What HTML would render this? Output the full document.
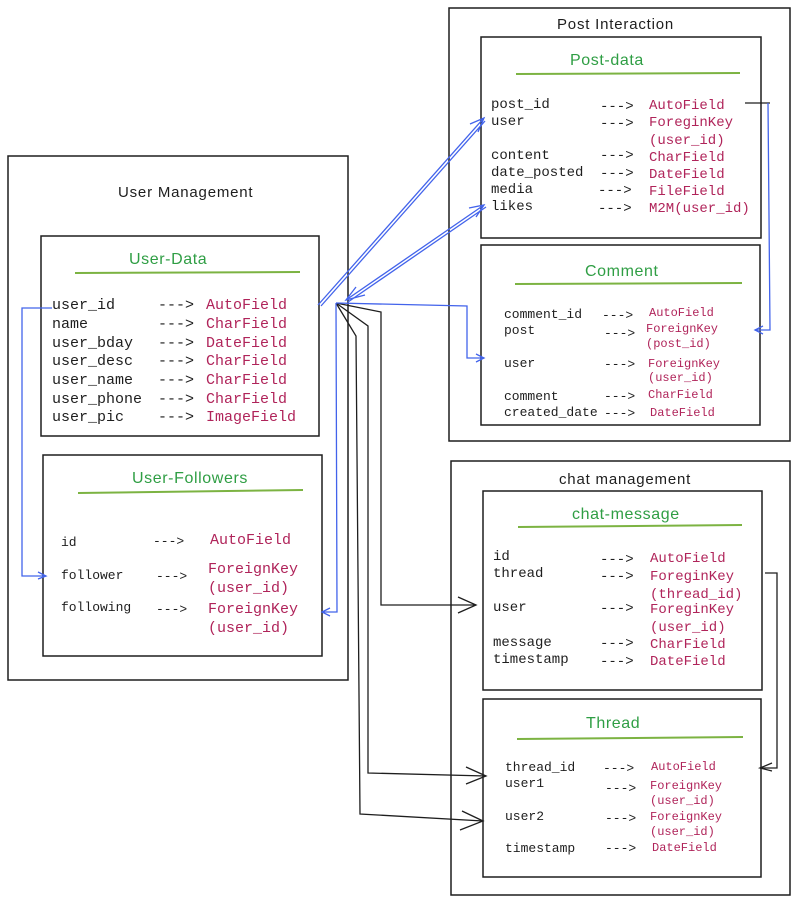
<!DOCTYPE html>
<html><head><meta charset="utf-8"><style>
html,body{margin:0;padding:0;background:#fff;width:800px;height:912px;overflow:hidden}
svg text{font-family:"Liberation Mono",monospace;fill:#1e1e1e}
.r{fill:#b0245a}
.t{font-family:"Liberation Sans",sans-serif;font-size:15px;letter-spacing:0.8px}
.g{font-family:"Liberation Sans",sans-serif;fill:#2f9e44;font-size:16px;letter-spacing:0.6px}
</style></head><body>
<svg width="800" height="912" viewBox="0 0 800 912" xmlns="http://www.w3.org/2000/svg">
<g fill="none" stroke="#1e1e1e" stroke-width="1.5">
<rect x="8" y="156" width="340" height="524"/>
<rect x="41" y="236" width="278" height="200"/>
<rect x="43" y="455" width="279" height="201"/>
<rect x="449" y="8" width="341" height="433"/>
<rect x="481" y="37" width="280" height="201"/>
<rect x="481" y="245" width="279" height="180"/>
<rect x="451" y="461" width="339" height="434"/>
<rect x="483" y="491" width="279" height="199"/>
<rect x="483" y="699" width="278" height="178"/>
</g>
<g stroke="#7cb342" stroke-width="2">
<line x1="75" y1="273" x2="300" y2="272"/>
<line x1="78" y1="493" x2="303" y2="490"/>
<line x1="516" y1="74" x2="740" y2="73"/>
<line x1="515" y1="284" x2="742" y2="283"/>
<line x1="518" y1="527" x2="742" y2="525"/>
<line x1="517" y1="739" x2="743" y2="737"/>
</g>
<text class="t" x="118" y="197">User Management</text>
<text class="t" x="557" y="29">Post Interaction</text>
<text class="t" x="559" y="484">chat management</text>
<text class="g" x="129" y="264">User-Data</text>
<text class="g" x="132" y="483">User-Followers</text>
<text class="g" x="570" y="65">Post-data</text>
<text class="g" x="585" y="276">Comment</text>
<text class="g" x="572" y="519">chat-message</text>
<text class="g" x="586" y="728">Thread</text>

<g font-size="15">
<text x="52" y="309">user_id</text><text x="158" y="309">---&gt;</text><text class="r" x="206" y="309">AutoField</text>
<text x="52" y="328">name</text><text x="158" y="328">---&gt;</text><text class="r" x="206" y="328">CharField</text>
<text x="52" y="347">user_bday</text><text x="158" y="347">---&gt;</text><text class="r" x="206" y="347">DateField</text>
<text x="52" y="365">user_desc</text><text x="158" y="365">---&gt;</text><text class="r" x="206" y="365">CharField</text>
<text x="52" y="384">user_name</text><text x="158" y="384">---&gt;</text><text class="r" x="206" y="384">CharField</text>
<text x="52" y="403">user_phone</text><text x="158" y="403">---&gt;</text><text class="r" x="206" y="403">CharField</text>
<text x="52" y="421">user_pic</text><text x="158" y="421">---&gt;</text><text class="r" x="206" y="421">ImageField</text>
</g>
<g font-size="13">
<text x="61" y="546">id</text><text x="153" y="545">---&gt;</text>
<text x="61" y="579">follower</text><text x="156" y="580">---&gt;</text>
<text x="61" y="611">following</text><text x="156" y="613">---&gt;</text>
</g>
<g font-size="15">
<text class="r" x="210" y="544">AutoField</text>
<text class="r" x="208" y="573">ForeignKey</text><text class="r" x="208" y="592">(user_id)</text>
<text class="r" x="208" y="613">ForeignKey</text><text class="r" x="208" y="632">(user_id)</text>
</g>
<g font-size="14">
<text x="491" y="108">post_id</text><text x="600" y="110">---&gt;</text><text class="r" x="649" y="109">AutoField</text>
<text x="491" y="125">user</text><text x="600" y="127">---&gt;</text><text class="r" x="649" y="126">ForeginKey</text><text class="r" x="649" y="144">(user_id)</text>
<text x="491" y="159">content</text><text x="600" y="159">---&gt;</text><text class="r" x="649" y="161">CharField</text>
<text x="491" y="176">date_posted</text><text x="600" y="177">---&gt;</text><text class="r" x="649" y="178">DateField</text>
<text x="491" y="193">media</text><text x="598" y="194">---&gt;</text><text class="r" x="649" y="195">FileField</text>
<text x="491" y="210">likes</text><text x="598" y="212">---&gt;</text><text class="r" x="649" y="212">M2M(user_id)</text>
</g>
<g font-size="13">
<text x="504" y="318">comment_id</text><text x="602" y="319">---&gt;</text>
<text x="504" y="334">post</text><text x="604" y="337">---&gt;</text>
<text x="504" y="367">user</text><text x="604" y="368">---&gt;</text>
<text x="504" y="400">comment</text><text x="604" y="400">---&gt;</text>
<text x="504" y="416">created_date</text><text x="604" y="417">---&gt;</text>
</g>
<g font-size="12">
<text class="r" x="649" y="316">AutoField</text>
<text class="r" x="646" y="332">ForeignKey</text><text class="r" x="646" y="347">(post_id)</text>
<text class="r" x="648" y="367">ForeignKey</text><text class="r" x="648" y="381">(user_id)</text>
<text class="r" x="648" y="398">CharField</text>
<text class="r" x="650" y="416">DateField</text>
</g>
<g font-size="14">
<text x="493" y="560">id</text><text x="600" y="563">---&gt;</text><text class="r" x="650" y="562">AutoField</text>
<text x="493" y="577">thread</text><text x="600" y="580">---&gt;</text><text class="r" x="650" y="580">ForeginKey</text><text class="r" x="650" y="598">(thread_id)</text>
<text x="493" y="611">user</text><text x="600" y="612">---&gt;</text><text class="r" x="650" y="613">ForeginKey</text><text class="r" x="650" y="631">(user_id)</text>
<text x="493" y="646">message</text><text x="600" y="647">---&gt;</text><text class="r" x="650" y="648">CharField</text>
<text x="493" y="663">timestamp</text><text x="600" y="665">---&gt;</text><text class="r" x="650" y="665">DateField</text>
</g>
<g font-size="13">
<text x="505" y="771">thread_id</text><text x="603" y="772">---&gt;</text>
<text x="505" y="787">user1</text><text x="605" y="792">---&gt;</text>
<text x="505" y="820">user2</text><text x="605" y="822">---&gt;</text>
<text x="505" y="852">timestamp</text><text x="605" y="852">---&gt;</text>
</g>
<g font-size="12">
<text class="r" x="651" y="770">AutoField</text>
<text class="r" x="650" y="789">ForeignKey</text><text class="r" x="650" y="804">(user_id)</text>
<text class="r" x="650" y="820">ForeignKey</text><text class="r" x="650" y="835">(user_id)</text>
<text class="r" x="652" y="851">DateField</text>
</g>

<g fill="none" stroke="#1e1e1e" stroke-width="1.3">
<polyline points="336,303 381,312 381,605 476,605"/>
<polyline points="458,597 476,605 458,613"/>
<polyline points="336,303 368,326 368,773 486,776"/>
<polyline points="466,767 486,776 466,784"/>
<polyline points="336,303 356,336 360,814 483,821"/>
<polyline points="462,811 483,821 460,830"/>
<polyline points="765,573 777,573 777,768 760,768"/>
<polyline points="772,763 760,768 772,771"/>
<line x1="745" y1="103" x2="770" y2="103"/>
</g>
<g fill="none" stroke="#4263eb" stroke-width="1.3">
<polyline points="336,303 467,306 467,358 484,358"/>
<polyline points="476,354 484,358 476,362"/>
<polyline points="336,303 337,612 322,612"/>
<polyline points="330,608 322,612 330,616"/>
<polyline points="52,308 22,308 22,576 46,576"/>
<polyline points="38,572 46,576 38,579"/>
<line x1="318" y1="305" x2="483" y2="119"/>
<line x1="321" y1="306" x2="485" y2="121"/>
<polyline points="470,124 484,118 478,132"/>
<line x1="346" y1="300" x2="484" y2="205"/>
<line x1="348" y1="302" x2="486" y2="207"/>
<polyline points="469,208 484,205 476,217"/>
<polyline points="356,287 346,300 365,295"/>
<polyline points="768,103 770,330 755,330"/>
<polyline points="763,326 755,330 763,334"/>
</g>
</svg>
</body></html>
